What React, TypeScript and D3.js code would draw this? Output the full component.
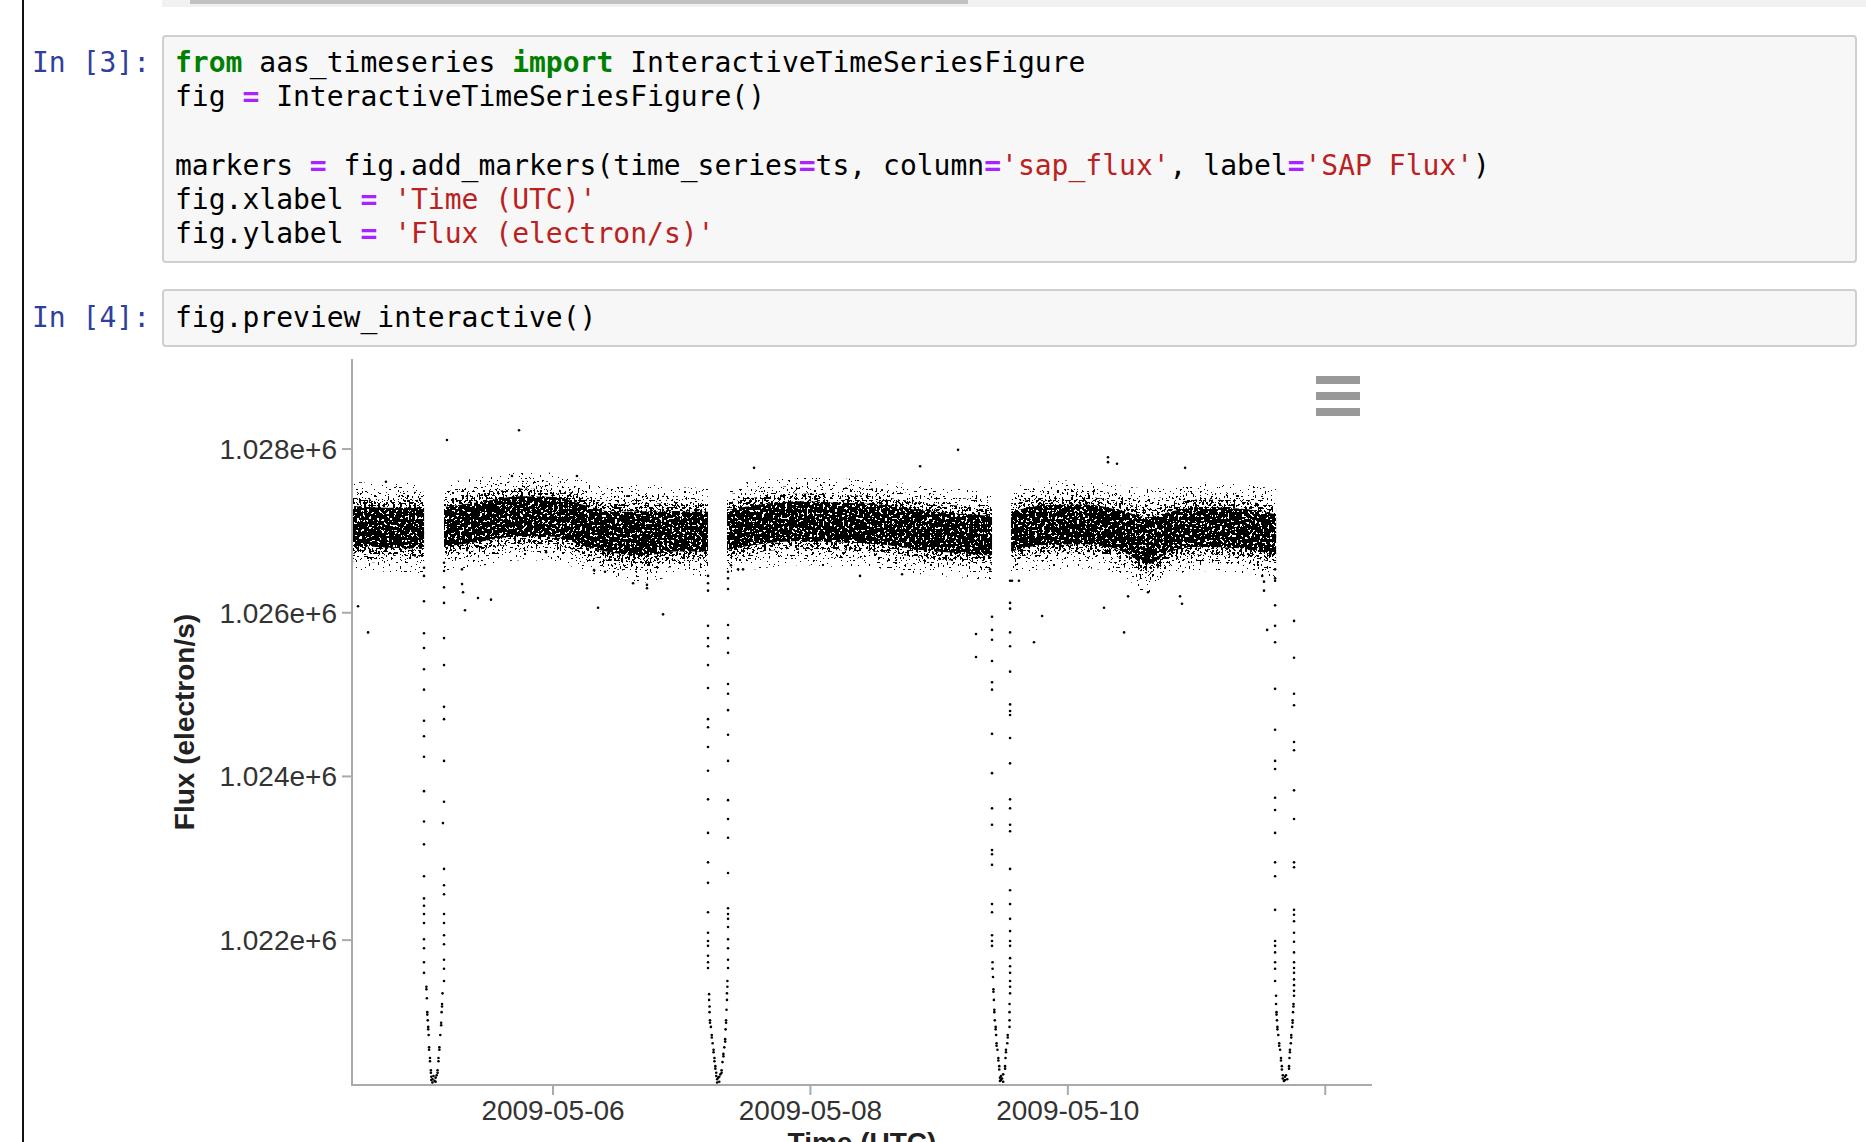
import React, { useMemo } from 'react';
import * as d3 from 'd3';

// time values are days since 2009-05-04T00:00Z, flux in electron/s
const epoch = Date.UTC(2009, 4, 4);
const timeDomain = ['2009-05-04T10:31:00Z', '2009-05-12T08:43:00Z'];
const fluxDomain = [1020230, 1029100];
const fluxTicks = [1022000, 1024000, 1026000, 1028000];
const timeTicks = ['2009-05-06', '2009-05-08', '2009-05-10', '2009-05-12'];

// out-of-transit stretches: [day, median flux, scatter]
const bandA: [number, number, number][] = [
  [0.438, 1027060, 135], [0.70, 1027040, 135], [0.998, 1027030, 140],
];
const bandB: [number, number, number][] = [
  [1.153, 1027050, 135], [1.433, 1027110, 135], [1.744, 1027180, 135], [2.016, 1027170, 135],
  [2.249, 1027060, 140], [2.482, 1026980, 140], [2.715, 1026970, 150], [2.948, 1026990, 135],
  [3.204, 1026990, 135],
];
const bandC: [number, number, number][] = [
  [3.352, 1027010, 135], [3.608, 1027080, 135], [3.919, 1027120, 135], [4.230, 1027100, 135],
  [4.541, 1027080, 135], [4.852, 1027010, 135], [5.162, 1026970, 135], [5.411, 1026940, 135],
];
const bandD: [number, number, number][] = [
  [5.559, 1026990, 135], [5.823, 1027070, 135], [6.134, 1027080, 135], [6.406, 1027010, 135],
  [6.623, 1026880, 160], [6.794, 1026990, 135], [7.027, 1027050, 135], [7.338, 1027030, 135],
  [7.618, 1026950, 140],
];

// isolated points away from the bands: [day, flux]
const outliers: [number, number][] = [
  [1.176, 1028110], [1.736, 1028230], [0.702, 1027600], [1.681, 1027670], [2.186, 1027670],
  [3.562, 1027770], [5.147, 1027990], [4.852, 1027790], [6.312, 1027900], [6.312, 1027840],
  [6.382, 1027820], [6.911, 1027770],
  [0.485, 1026080], [0.563, 1025760], [1.417, 1026180], [1.518, 1026160], [1.316, 1026030],
  [1.293, 1026350], [2.350, 1026060], [2.855, 1025980], [2.622, 1026360], [2.730, 1026340],
  [2.730, 1026300], [2.319, 1026520], [2.404, 1026500], [1.946, 1026740], [4.385, 1026450],
  [4.712, 1026470], [5.800, 1025960], [5.737, 1025640], [6.281, 1026060], [6.437, 1025760],
  [6.468, 1026200], [6.872, 1026200], [6.887, 1026110], [6.623, 1026250],
];

// transit mid-times (days) and points as [minutes from mid, fluxes]
const transitMids = [1.0754, 3.2821, 5.4810, 7.6838];

const transit1: [number, number[]][] = [
  [-112, [1026550, 1026450, 1026140, 1025750, 1025570, 1025310, 1025060, 1024680, 1024490, 1024240,
    1023820, 1023450, 1023170, 1022780, 1022510, 1022420, 1022320, 1022210, 1022010, 1021900,
    1021730, 1021600]],
  [-85, [1021430, 1021400]], [-80, [1021290]], [-75, [1021120, 1021090]], [-70, [1021020]],
  [-65, [1020940, 1020910]], [-60, [1020840]], [-55, [1020690, 1020660]], [-45, [1020560, 1020520]],
  [-35, [1020410, 1020380]],
  [-30, [1020330, 1020290]], [-18, [1020300, 1020260]], [-6, [1020340]], [6, [1020280]],
  [18, [1020320, 1020270]], [30, [1020350]],
  [40, [1020410, 1020380]], [50, [1020560, 1020520]], [60, [1020690, 1020660]], [70, [1020840]],
  [80, [1020990, 1020960]], [85, [1021120]], [90, [1021220, 1021190]], [95, [1021350]],
  [100, [1023430]],
  [112, [1026610, 1026510, 1026310, 1026120, 1025690, 1025360, 1024850, 1024700, 1024190, 1023690,
    1022870, 1022670, 1022560, 1022320, 1022210, 1022060, 1021950, 1021760, 1021650, 1021500]],
  [313, [1026530]], [325, [1026250]],
];

const transit2: [number, number[]][] = [
  [-112, [1026450, 1026360, 1026270, 1025840, 1025690, 1025590, 1025360, 1025080, 1024700, 1024600,
    1024360, 1024070, 1023720, 1023310, 1022950, 1022700, 1022340, 1022090, 1021990, 1021930,
    1021810, 1021730, 1021660]],
  [-100, [1021340, 1021270]], [-95, [1021190, 1021120]], [-90, [1021020, 1020990]], [-80, [1020940]],
  [-70, [1020840, 1020810]], [-60, [1020740]], [-50, [1020660, 1020630]], [-40, [1020560, 1020520]],
  [-30, [1020460, 1020430]], [-20, [1020380, 1020340]],
  [-10, [1020300, 1020260]], [2, [1020320]], [14, [1020270, 1020330]], [26, [1020360]],
  [40, [1020410, 1020380]], [50, [1020510]], [60, [1020610, 1020580]], [70, [1020690]],
  [80, [1020790, 1020760]], [85, [1020910]], [90, [1021020, 1020990]], [95, [1021150]],
  [100, [1021270, 1021350]], [105, [1021430, 1021500]],
  [112, [1026500, 1026420, 1026290, 1025850, 1025690, 1025510, 1025130, 1025010, 1024810, 1024510,
    1024190, 1023710, 1023480, 1023250, 1022820, 1022390, 1022320, 1022260, 1022160, 1022010,
    1021900, 1021760, 1021660]],
  [145, [1026580]], [224, [1026530]], [280, [1026530]],
];

const transit3: [number, number[]][] = [
  [-280, [1025740, 1025460]], [-123, [1026530]],
  [-101, [1025950, 1025790, 1025670, 1025410, 1025150, 1025060, 1024520, 1024040, 1023610, 1023410,
    1023100, 1023050, 1022920, 1022440, 1022340, 1022060, 1021990, 1021930]],
  [-95, [1021730, 1021650]], [-90, [1021550]], [-85, [1021400, 1021370]], [-80, [1021270]],
  [-75, [1021150, 1021120]], [-70, [1021020]], [-60, [1020940, 1020910]], [-55, [1020840]],
  [-50, [1020740, 1020710]], [-40, [1020660]], [-30, [1020560, 1020530]], [-20, [1020460, 1020420]],
  [-12, [1020320, 1020280]], [0, [1020340, 1020290]], [12, [1020310]], [24, [1020360, 1020270]],
  [45, [1020460, 1020430]], [50, [1020560]], [55, [1020660, 1020630]], [70, [1020740]],
  [75, [1020840, 1020810]], [95, [1020940, 1021020, 1021120, 1021220]],
  [101, [1026390, 1026120, 1026050, 1025760, 1025590, 1025280, 1024880, 1024800, 1024750, 1024470,
    1024160, 1023720, 1023610, 1023410, 1023330, 1022870, 1022610, 1022440, 1022260, 1022110,
    1021990, 1021930, 1021780, 1021680, 1021600, 1021500, 1021430, 1021350]],
  [123, [1026390]], [200, [1026390]],
];

const transit4: [number, number[]][] = [
  [-250, [1026450]], [-230, [1026380, 1026270]], [-195, [1025790]],
  [-106, [1026530, 1026420, 1026390, 1026090, 1025840, 1025640, 1025070, 1024570, 1024190, 1024090,
    1023740, 1023590, 1023310, 1022950, 1022780, 1022370, 1021990, 1021930, 1021850, 1021730,
    1021650, 1021500]],
  [-95, [1021320, 1021220]], [-90, [1021120, 1021090]], [-85, [1021020]], [-80, [1020940, 1020910]],
  [-70, [1020840]], [-60, [1020740, 1020710]], [-50, [1020660]], [-40, [1020560, 1020530]],
  [-30, [1020460, 1020420]],
  [-20, [1020310, 1020350]], [-8, [1020280]], [4, [1020330, 1020290]], [16, [1020350]], [30, [1020300]],
  [50, [1020460, 1020430]], [55, [1020560]], [60, [1020660, 1020630]], [70, [1020740]],
  [75, [1020840, 1020810]], [85, [1020940]], [90, [1021020, 1020990]], [95, [1021120]],
  [100, [1021220, 1021190]],
  [106, [1025900, 1025450, 1025010, 1024870, 1024420, 1024320, 1023830, 1023480, 1022950, 1022890,
    1022370, 1022310, 1022230, 1022090, 1021980, 1021850, 1021730, 1021660, 1021600, 1021520,
    1021450, 1021380, 1021320]],
];

type Tok = [string, string];
const cell3: Tok[][] = [
  [['from', 'kw'], [' aas_timeseries ', 'tx'], ['import', 'kw'], [' InteractiveTimeSeriesFigure', 'tx']],
  [['fig ', 'tx'], ['=', 'op'], [' InteractiveTimeSeriesFigure()', 'tx']],
  [],
  [['markers ', 'tx'], ['=', 'op'], [' fig.add_markers(time_series', 'tx'], ['=', 'op'], ['ts, column', 'tx'],
    ['=', 'op'], ["'sap_flux'", 'st'], [', label', 'tx'], ['=', 'op'], ["'SAP Flux'", 'st'], [')', 'tx']],
  [['fig.xlabel ', 'tx'], ['=', 'op'], [' ', 'tx'], ["'Time (UTC)'", 'st']],
  [['fig.ylabel ', 'tx'], ['=', 'op'], [' ', 'tx'], ["'Flux (electron/s)'", 'st']],
];
const cell4: Tok[][] = [[['fig.preview_interactive()', 'tx']]];

const tokStyle: Record<string, { fill: string; bold?: boolean }> = {
  kw: { fill: '#008000', bold: true },
  op: { fill: '#AA22FF', bold: true },
  st: { fill: '#BA2121' },
  tx: { fill: '#000000' },
};

const mono = '"DejaVu Sans Mono", monospace';
const sans = '"Liberation Sans", Arial, sans-serif';

const CodeLines: React.FC<{ lines: Tok[][]; top: number }> = ({ lines, top }) => (
  <g fontFamily={mono} fontSize={28} style={{ whiteSpace: 'pre' }}>
    {lines.map((line, i) => (
      <text key={i} x={175} y={top + i * 34.2}>
        {line.map((t, j) => (
          <tspan key={j} fill={tokStyle[t[1]].fill} fontWeight={tokStyle[t[1]].bold ? 'bold' : 'normal'}>
            {t[0]}
          </tspan>
        ))}
      </text>
    ))}
  </g>
);

// threshold table for the speckle texture of the dense point bands
const table = (threshold: number) =>
  d3.range(100).map(i => (i / 100 >= threshold ? 1 : 0)).join(' ');

const speckles = [
  { id: 'spk-fringe', k: 4.0, thr: 0.69, seed: 23, freq: 0.45 },
  { id: 'spk-outer', k: 3.2, thr: 0.64, seed: 17, freq: 0.42 },
  { id: 'spk-mid', k: 2.5, thr: 0.56, seed: 9, freq: 0.42 },
  { id: 'spk-core', k: 1.8, thr: 0.42, seed: 4, freq: 0.4 },
];

const App: React.FC = () => {
  const x = useMemo(
    () => d3.scaleUtc().domain(timeDomain.map(s => new Date(s))).range([352, 1372]),
    []
  );
  const y = useMemo(() => d3.scaleLinear().domain(fluxDomain).range([1085, 359]), []);
  const day = (d: number) => new Date(epoch + d * 864e5);

  const bands = [bandA, bandB, bandC, bandD];
  const areaFor = (k: number) =>
    d3.area<[number, number, number]>()
      .x(d => x(day(d[0])))
      .y0(d => y(d[1] - k * d[2]))
      .y1(d => y(d[1] + k * d[2]))
      .curve(d3.curveMonotoneX);

  const points = useMemo(() => {
    const pts: [Date, number][] = outliers.map(([d, f]) => [day(d), f]);
    [transit1, transit2, transit3, transit4].forEach((tr, i) => {
      tr.forEach(([min, fluxes]) => {
        fluxes.forEach(f => pts.push([day(transitMids[i] + min / 1440), f]));
      });
    });
    return pts;
  }, []);

  const fmt = d3.format('.3e');

  return (
    <div style={{ position: 'absolute', left: 0, top: 0, width: 1866, height: 1142, overflow: 'hidden', background: '#fff' }}>
      <svg width={1866} height={1142} style={{ display: 'block' }}>
        <defs>
          {speckles.map(s => (
            <filter key={s.id} id={s.id} x="-5%" y="-20%" width="110%" height="140%">
              <feTurbulence type="fractalNoise" baseFrequency={s.freq} numOctaves={1} seed={s.seed} result="n" />
              <feComponentTransfer in="n" result="m">
                <feFuncA type="discrete" tableValues={table(s.thr)} />
              </feComponentTransfer>
              <feComposite in="SourceGraphic" in2="m" operator="in" />
            </filter>
          ))}
          <clipPath id="plot-clip">
            <rect x={352} y={359} width={1020} height={726} />
          </clipPath>
        </defs>

        {/* notebook chrome */}
        <rect x={162} y={0} width={1704} height={7} fill="#f1f1f1" />
        <rect x={190} y={0} width={778} height={4} fill="#c1c1c1" />
        <rect x={22} y={0} width={2} height={1142} fill="#111" />

        <text x={150} y={72} textAnchor="end" fontFamily={mono} fontSize={28} fill="#303F9F">In [3]:</text>
        <rect x={163} y={36} width={1693} height={226} rx={3} fill="#f7f7f7" stroke="#cfcfcf" strokeWidth={2} />
        <CodeLines lines={cell3} top={72} />

        <text x={150} y={327} textAnchor="end" fontFamily={mono} fontSize={28} fill="#303F9F">In [4]:</text>
        <rect x={163} y={290} width={1693} height={56} rx={3} fill="#f7f7f7" stroke="#cfcfcf" strokeWidth={2} />
        <CodeLines lines={cell4} top={327} />

        {/* chart */}
        <g clipPath="url(#plot-clip)">
          {speckles.map(s => (
            <g key={s.id} filter={`url(#${s.id})`}>
              {bands.map((b, i) => (
                <path key={i} d={areaFor(s.k)(b) || ''} fill="#000" />
              ))}
            </g>
          ))}
          {points.map((p, i) => (
            <circle key={i} cx={x(p[0])} cy={y(p[1])} r={1.3} fill="#000" />
          ))}
        </g>

        <g fontFamily={sans} fontSize={28} fill="#333">
          <line x1={352} x2={352} y1={359} y2={1086} stroke="#aaa" strokeWidth={2} />
          <line x1={351} x2={1372} y1={1085} y2={1085} stroke="#aaa" strokeWidth={2} />
          {fluxTicks.map(t => (
            <g key={t}>
              <line x1={342} x2={352} y1={y(t)} y2={y(t)} stroke="#aaa" strokeWidth={2} />
              <text x={337} y={y(t)} dy="0.35em" textAnchor="end">{fmt(t)}</text>
            </g>
          ))}
          {timeTicks.map(t => {
            const tx = x(new Date(t + 'T00:00:00Z'));
            return (
              <g key={t}>
                <line x1={tx} x2={tx} y1={1085} y2={1095} stroke="#aaa" strokeWidth={2} />
                {tx + 71 <= 1372 && (
                  <text x={tx} y={1120} textAnchor="middle">{t}</text>
                )}
              </g>
            );
          })}
          <text
            transform={`translate(194,722) rotate(-90)`}
            textAnchor="middle"
            fontWeight="bold"
            fill="#222"
          >
            Flux (electron/s)
          </text>
          {/* the x title sits below the window, as in the screenshot */}
          <text x={862} y={1152} textAnchor="middle" fontWeight="bold" fill="#222">Time (UTC)</text>
        </g>

        {/* actions menu */}
        <g fill="#999">
          <rect x={1316} y={376} width={44} height={8} />
          <rect x={1316} y={392} width={44} height={8} />
          <rect x={1316} y={408} width={44} height={8} />
        </g>
      </svg>
    </div>
  );
};

export default App;
